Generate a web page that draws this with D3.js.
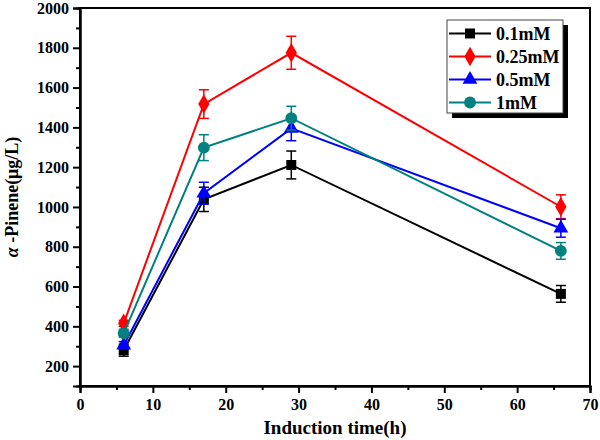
<!DOCTYPE html>
<html><head><meta charset="utf-8">
<script src="https://cdn.jsdelivr.net/npm/d3@7"></script>
<style>body{margin:0;background:#fff}svg{display:block}</style>
</head><body>
<svg id="c" width="600" height="440"></svg>
<script>
const times = [6, 17, 29, 66];
const seriesNames = ["0.1mM", "0.25mM", "0.5mM", "1mM"];
const colors = ["#000000", "#ff0000", "#0000ff", "#008080"];
const shapes = ["square", "diamond", "triangle", "circle"];
const v01 = [280, 1038, 1211, 563];
const e01 = [30, 61, 70, 42];
const v025 = [415, 1517, 1775, 1001];
const e025 = [15, 72, 83, 60];
const v05 = [305, 1069, 1395, 893];
const e05 = [18, 55, 62, 45];
const v1 = [365, 1298, 1446, 779];
const e1 = [20, 65, 60, 42];
const xTicks = [0, 10, 20, 30, 40, 50, 60, 70];
const yTicks = [200, 400, 600, 800, 1000, 1200, 1400, 1600, 1800, 2000];

const values = [v01, v025, v05, v1];
const errors = [e01, e025, e05, e1];
const FONT = "Liberation Serif, DejaVu Serif, serif";

const svg = d3.select("#c");
const L = 80, R = 590, T = 8, B = 386;
const x = d3.scaleLinear().domain([0, 70]).range([L, R]);
const y = d3.scaleLinear().domain([100, 2000]).range([B, T]);

svg.append("rect").attr("x", L).attr("y", T).attr("width", R - L).attr("height", B - T)
  .attr("fill", "none").attr("stroke", "#000").attr("stroke-width", 2);

const xMinor = d3.range(5, 70, 10);
svg.append("g").attr("transform", `translate(0,${B})`)
  .call(d3.axisBottom(x).tickValues(xTicks).tickSize(7).tickPadding(6).tickFormat(d3.format("d")));
svg.append("g").attr("transform", `translate(0,${B})`)
  .call(d3.axisBottom(x).tickValues(xMinor).tickSize(4).tickFormat(""));
const yMinor = d3.range(300, 2000, 200);
svg.append("g").attr("transform", `translate(${L},0)`)
  .call(d3.axisLeft(y).tickValues(yTicks).tickSize(7).tickPadding(4).tickFormat(d3.format("d")));
svg.append("g").attr("transform", `translate(${L},0)`)
  .call(d3.axisLeft(y).tickValues(yMinor).tickSize(4).tickFormat(""));
svg.selectAll("g").attr("font-family", null).attr("font-size", null);
svg.selectAll(".domain").attr("stroke", "#000").attr("stroke-width", 2);
svg.selectAll(".tick line").attr("stroke", "#000").attr("stroke-width", 2);
svg.selectAll(".tick text").style("font-size", "16px").style("font-family", FONT).style("font-weight", "bold").attr("fill", "#000");

svg.append("text").attr("x", 335).attr("y", 434).attr("text-anchor", "middle")
  .style("font-family", FONT).style("font-weight", "bold").style("font-size", "19px").text("Induction time(h)");
const yt = svg.append("text").attr("transform", `translate(18,${(T + B) / 2}) rotate(-90)`)
  .attr("text-anchor", "middle").style("font-family", FONT).style("font-weight", "bold").style("font-size", "18px");
yt.append("tspan").style("font-style", "italic").text("α");
yt.append("tspan").text(" -Pinene(μg/L)");

function symbol(shape) {
  const t = {square: d3.symbolSquare, diamond: d3.symbolDiamond, triangle: d3.symbolTriangle, circle: d3.symbolCircle}[shape];
  const s = {square: 100, diamond: 110, triangle: 95, circle: 110}[shape];
  return d3.symbol().type(t).size(s)();
}

const line = d3.line().x(d => x(d[0])).y(d => y(d[1]));
values.forEach((vals, i) => {
  const g = svg.append("g");
  const pts = times.map((t, j) => [t, vals[j], errors[i][j]]);
  g.append("path").attr("d", line(pts)).attr("fill", "none").attr("stroke", colors[i]).attr("stroke-width", 2);
  pts.forEach(p => {
    const cx = x(p[0]);
    g.append("line").attr("x1", cx).attr("x2", cx).attr("y1", y(p[1] - p[2])).attr("y2", y(p[1] + p[2]))
      .attr("stroke", colors[i]).attr("stroke-width", 1.5);
    [p[1] - p[2], p[1] + p[2]].forEach(v => {
      g.append("line").attr("x1", cx - 5).attr("x2", cx + 5).attr("y1", y(v)).attr("y2", y(v))
        .attr("stroke", colors[i]).attr("stroke-width", 1.5);
    });
    g.append("path").attr("d", symbol(shapes[i])).attr("transform", `translate(${cx},${y(p[1])})`)
      .attr("fill", colors[i]);
  });
});

const lx = 447, ly = 20, lw = 116, lh = 93;
svg.append("rect").attr("x", lx + 5).attr("y", ly + 5).attr("width", lw).attr("height", lh).attr("fill", "#000");
svg.append("rect").attr("x", lx).attr("y", ly).attr("width", lw).attr("height", lh)
  .attr("fill", "#fff").attr("stroke", "#444").attr("stroke-width", 1);
seriesNames.forEach((n, i) => {
  const ry = 33.5 + i * 23;
  svg.append("line").attr("x1", 449).attr("x2", 491).attr("y1", ry).attr("y2", ry)
    .attr("stroke", colors[i]).attr("stroke-width", 2);
  svg.append("path").attr("d", symbol(shapes[i])).attr("transform", `translate(470,${ry})`).attr("fill", colors[i]);
  svg.append("text").attr("x", 496).attr("y", ry + 6)
    .style("font-family", FONT).style("font-weight", "bold").style("font-size", "18px").text(n);
});
</script>
</body></html>
